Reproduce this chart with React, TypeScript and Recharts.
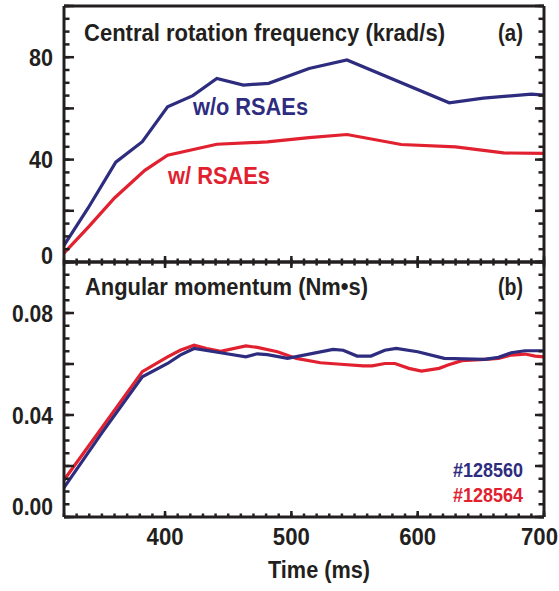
import React from "react";
import { Line, LineChart, XAxis, YAxis } from "recharts";

// (a) central rotation frequency, krad/s
const TIME_A_BLUE = [320, 339, 361, 382, 402, 422, 441, 462, 482, 514, 544, 625, 652, 690, 700];
const OMEGA_BLUE = [6.5, 21, 39, 47, 60.6, 65, 71.7, 69.1, 69.8, 75.6, 78.9, 62.2, 64, 65.6, 65.2];
const TIME_A_RED = [320, 340, 360, 384, 402, 441, 481, 514, 544, 587, 630, 668, 700];
const OMEGA_RED = [3.5, 14, 25, 35.8, 41.7, 46, 46.9, 48.6, 49.8, 45.9, 45, 42.6, 42.4];

// (b) angular momentum, Nm*s
const TIME_B_BLUE = [320, 350, 382, 402, 412, 423, 444, 464, 473, 481, 497, 533, 541, 552, 563, 574, 583, 600, 621, 653, 664, 674, 685, 700];
const MOM_BLUE = [0.0115, 0.033, 0.055, 0.0602, 0.0635, 0.0661, 0.0644, 0.0628, 0.064, 0.0637, 0.0622, 0.0657, 0.0654, 0.0631, 0.0631, 0.0654, 0.0661, 0.0648, 0.0622, 0.0618, 0.0626, 0.0644, 0.0652, 0.0652];
const TIME_B_RED = [320, 350, 382, 402, 412, 423, 433, 444, 464, 473, 489, 504, 523, 539, 557, 564, 574, 582, 593, 603, 617, 624, 635, 653, 664, 674, 685, 693, 700];
const MOM_RED = [0.0145, 0.035, 0.057, 0.0628, 0.0654, 0.0674, 0.0661, 0.065, 0.0671, 0.0665, 0.0648, 0.0622, 0.0605, 0.0599, 0.0593, 0.0593, 0.0602, 0.0602, 0.0583, 0.0572, 0.0583, 0.0596, 0.0613, 0.0618, 0.0622, 0.0635, 0.0639, 0.0631, 0.0628];

const X_LABELS = [400, 500, 600, 700];
const A_LABELS = [0, 40, 80];
const B_LABELS = ["0.00", "0.04", "0.08"];

const X_TICKS = Array.from({ length: 39 }, (_, i) => 320 + i * 10);
const A_TICKS = Array.from({ length: 21 }, (_, i) => i * 5);
const B_TICKS = Array.from({ length: 21 }, (_, i) => i * 5); // in 1e-3 units

const INK = "#231f20";
const BLUE = "#2d2c7f";
const RED = "#e1212f";
const FONT = "'Liberation Sans Narrow', 'Liberation Sans', Arial, sans-serif";

const zip = (ts: number[], vs: number[]) => ts.map((t, i) => ({ t, v: vs[i] }));
const blueA = zip(TIME_A_BLUE, OMEGA_BLUE);
const redA = zip(TIME_A_RED, OMEGA_RED);
const blueB = zip(TIME_B_BLUE, MOM_BLUE.map((v) => v * 1000));
const redB = zip(TIME_B_RED, MOM_RED.map((v) => v * 1000));

const label = { fontFamily: FONT, fontWeight: 700, fill: INK };

// built-in tick lines point inward via a negative tickSize; tickMargin brings the label anchor back to the axis
const X_MINOR = 3.5;
const Y_MINOR = 5.5;
const tickLine = { stroke: INK, strokeWidth: 2.5 };
const axisLine = { stroke: INK, strokeWidth: 3 };

function makeXTick(dir: number, withLabel: boolean) {
  return function XTick(p: any) {
    const v = p.payload.value;
    const major = v % 100 === 0;
    const isLabel = withLabel && X_LABELS.includes(v);
    const last = v === 700;
    return (
      <g>
        {major && <line x1={p.x} x2={p.x} y1={p.y} y2={p.y + dir * 6} stroke={INK} strokeWidth={2.5} />}
        {isLabel && (
          <text x={last ? 558 : p.x} y={p.y + 28} textAnchor={last ? "end" : "middle"} fontSize={24}
            textLength={37} lengthAdjust="spacingAndGlyphs" {...label}>
            {v}
          </text>
        )}
      </g>
    );
  };
}

function makeYTick(side: "l" | "r", panel: "a" | "b") {
  return function YTick(p: any) {
    const v = p.payload.value;
    const major = v % 20 === 0;
    const dir = side === "l" ? 1 : -1;
    const len = side === "l" ? 10 : 9;
    let text: string | null = null;
    if (side === "l") {
      if (panel === "a" && A_LABELS.includes(v)) text = String(v);
      if (panel === "b") {
        const idx = [0, 40, 80].indexOf(v);
        if (idx >= 0) text = B_LABELS[idx];
      }
    }
    const shift = v === 0 ? (panel === "a" ? -7 : -11) : 0;
    const w = text ? (text.length === 1 ? 12 : text.length === 2 ? 24 : 41) : 0;
    return (
      <g>
        {major && <line x1={p.x} x2={p.x + dir * len} y1={p.y} y2={p.y} stroke={INK} strokeWidth={2.5} />}
        {text && (
          <text x={p.x - 11} y={p.y + 8.5 + shift} textAnchor="end" fontSize={24} textLength={w} lengthAdjust="spacingAndGlyphs" {...label}>
            {text}
          </text>
        )}
      </g>
    );
  };
}

export default function App() {
  return (
    <div style={{ position: "absolute", left: 0, top: 0, width: 559, height: 591, background: "#fff" }}>
      <svg width={559} height={591} style={{ position: "absolute", left: 0, top: 0, pointerEvents: "none" }}>
        <g {...label} fontSize={23}>
          <text x={84} y={41} textLength={361} lengthAdjust="spacingAndGlyphs">Central rotation frequency (krad/s)</text>
          <text x={498} y={41} textLength={25} lengthAdjust="spacingAndGlyphs">(a)</text>
          <text x={193} y={115} textLength={115} lengthAdjust="spacingAndGlyphs" fill={BLUE}>w/o RSAEs</text>
          <text x={168} y={183.5} textLength={102} lengthAdjust="spacingAndGlyphs" fill={RED}>w/ RSAEs</text>
          <text x={85} y={295} textLength={283} lengthAdjust="spacingAndGlyphs">Angular momentum (Nm•s)</text>
          <text x={498} y={295} textLength={25} lengthAdjust="spacingAndGlyphs">(b)</text>
          <text x={453} y={477} fontSize={20} textLength={70} lengthAdjust="spacingAndGlyphs" fill={BLUE}>#128560</text>
          <text x={453} y={502} fontSize={20} textLength={70} lengthAdjust="spacingAndGlyphs" fill={RED}>#128564</text>
          <text x={268} y={578} textLength={102} lengthAdjust="spacingAndGlyphs">Time (ms)</text>
        </g>
      </svg>
      <div style={{ position: "absolute", left: 0, top: 0 }}>
        <LineChart width={559} height={280} margin={{ top: 5, right: 0, bottom: 8, left: 0 }}>
          <XAxis xAxisId="b" type="number" dataKey="t" domain={[320, 700]} ticks={X_TICKS} interval={0}
            height={10} tickSize={-X_MINOR} tickMargin={X_MINOR} tickLine={tickLine} axisLine={axisLine} tick={makeXTick(-1, false)} />
          <XAxis xAxisId="top" orientation="top" type="number" dataKey="t" domain={[320, 700]}
            height={1} tick={false} tickLine={false} axisLine={axisLine} />
          <YAxis yAxisId="l" type="number" domain={[0, 100]} ticks={A_TICKS} interval={0} width={64}
            tickSize={-Y_MINOR} tickMargin={Y_MINOR} tickLine={tickLine} axisLine={axisLine} tick={makeYTick("l", "a")} />
          <YAxis yAxisId="r" orientation="right" type="number" domain={[0, 100]} ticks={A_TICKS} interval={0} width={15}
            tickSize={-Y_MINOR} tickMargin={Y_MINOR} tickLine={tickLine} axisLine={axisLine} tick={makeYTick("r", "a")} />
          <Line xAxisId="top" yAxisId="r" data={blueA} dataKey="v" stroke="none" dot={false} isAnimationActive={false} />
          <Line xAxisId="b" yAxisId="l" data={redA} dataKey="v" stroke={RED} strokeWidth={3.2} dot={false} isAnimationActive={false} />
          <Line xAxisId="b" yAxisId="l" data={blueA} dataKey="v" stroke={BLUE} strokeWidth={3.2} dot={false} isAnimationActive={false} />
        </LineChart>
      </div>
      <div style={{ position: "absolute", left: 0, top: 250 }}>
        <LineChart width={559} height={341} margin={{ top: 11, right: 0, bottom: 0, left: 0 }}>
          <XAxis xAxisId="b" type="number" dataKey="t" domain={[320, 700]} ticks={X_TICKS} interval={0}
            height={74} tickSize={-X_MINOR} tickMargin={X_MINOR} tickLine={tickLine} axisLine={axisLine} tick={makeXTick(-1, true)} />
          <XAxis xAxisId="top" orientation="top" type="number" dataKey="t" domain={[320, 700]} ticks={X_TICKS} interval={0}
            height={1} tickSize={-X_MINOR} tickMargin={X_MINOR} tickLine={tickLine} axisLine={axisLine} tick={makeXTick(1, false)} />
          <YAxis yAxisId="l" type="number" domain={[0, 100]} ticks={B_TICKS} interval={0} width={64}
            tickSize={-Y_MINOR} tickMargin={Y_MINOR} tickLine={tickLine} axisLine={axisLine} tick={makeYTick("l", "b")} />
          <YAxis yAxisId="r" orientation="right" type="number" domain={[0, 100]} ticks={B_TICKS} interval={0} width={15}
            tickSize={-Y_MINOR} tickMargin={Y_MINOR} tickLine={tickLine} axisLine={axisLine} tick={makeYTick("r", "b")} />
          <Line xAxisId="top" yAxisId="r" data={blueB} dataKey="v" stroke="none" dot={false} isAnimationActive={false} />
          <Line xAxisId="b" yAxisId="l" data={redB} dataKey="v" stroke={RED} strokeWidth={3.2} dot={false} isAnimationActive={false} />
          <Line xAxisId="b" yAxisId="l" data={blueB} dataKey="v" stroke={BLUE} strokeWidth={3.2} dot={false} isAnimationActive={false} />
        </LineChart>
      </div>
    </div>
  );
}
